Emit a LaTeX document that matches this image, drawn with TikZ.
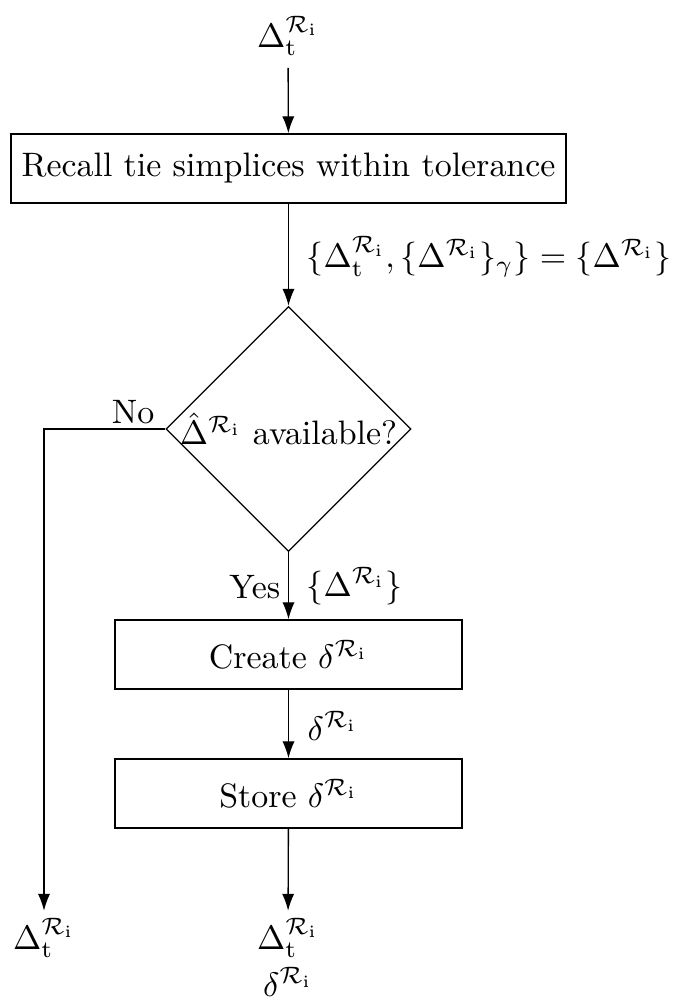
\documentclass[tikz,border=0pt]{standalone}
\usepackage{amsmath}
\usetikzlibrary{shapes.geometric,arrows.meta}
\newcommand{\Ri}{^{\mathcal{R}_\mathrm{i}}}
\begin{document}
\begin{tikzpicture}[x=0.295pt,y=-0.295pt,
  box/.style={draw,rectangle,inner sep=0pt,minimum height=20.4pt},
  dec/.style={draw,diamond,inner sep=0pt,minimum width=72.3pt,minimum height=72.3pt},
  arr/.style={-{Latex[length=5pt,width=3.6pt]}},
  lbl/.style={inner sep=0pt}]
\useasboundingbox (0,0) rectangle (675,1001);
\node (in) at (288,36) {$\Delta_\mathrm{t}\Ri$};
\node[box,minimum width=163.7pt] (b1) at (288.5,168.5) {Recall tie simplices within tolerance};
\node[dec] (d) at (288.5,429) {\makebox[0pt]{$\hat{\Delta}\Ri$ available?}};
\node[box,minimum width=102.4pt] (b2) at (288.5,654.5) {Create $\delta\Ri$};
\node[box,minimum width=102.4pt] (b3) at (288.5,793.5) {Store $\delta\Ri$};
\node[inner sep=2pt] (out1) at (44,938) {$\Delta_\mathrm{t}\Ri$};
\node[inner sep=2pt] (out2) at (288,938) {$\Delta_\mathrm{t}\Ri$};
\node[lbl] (out2b) at (288,982) {$\delta\Ri$};
\draw[arr] (in) -- (b1);
\draw[arr] (b1) -- (d);
\draw[arr] (d) -- (b2);
\draw[arr] (b2) -- (b3);
\draw[arr] (b3) -- (out2);
\draw[arr] (d.west) -| (out1);
\node[lbl,anchor=west] (l1) at (306,257) {$\{\Delta_\mathrm{t}\Ri,\{\Delta\Ri\}_\gamma\}=\{\Delta\Ri\}$};
\node[lbl,anchor=base east] (no) at (155,423) {No};
\node[lbl,anchor=base east] (yes) at (281,598) {Yes};
\node[lbl,anchor=west] (l2) at (306,586) {$\{\Delta\Ri\}$};
\node[lbl,anchor=west] (l3) at (307,726) {$\delta\Ri$};
\end{tikzpicture}
\end{document}
